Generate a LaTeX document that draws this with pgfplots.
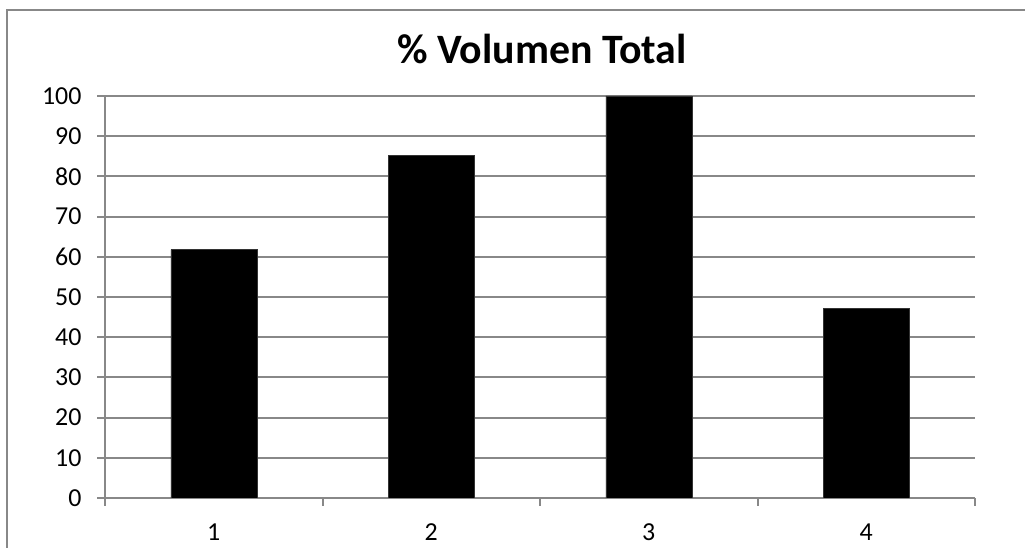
\documentclass[border=0pt]{standalone}
\usepackage{pgfplots}
\pgfplotsset{compat=1.18}
\usepackage{fontspec}
\setmainfont{Carlito}
\definecolor{gridgray}{HTML}{888888}
\begin{document}
\begin{tikzpicture}[x=1bp,y=1bp]
\path[use as bounding box] (0,0) rectangle (1025,548);
\draw[gridgray, line width=2bp] (7,0) -- (7,538) -- (1025,538);
\node[font=\fontsize{42}{50}\selectfont\bfseries] at (542,499) {\% Volumen Total};
\begin{axis}[
  at={(105bp,50bp)}, anchor=south west,
  scale only axis, width=870bp, height=402bp,
  xmin=0.5, xmax=4.5, ymin=0, ymax=100,
  axis lines*=left,
  axis line style={gridgray, line width=2bp},
  xtick={0.5,1.5,2.5,3.5,4.5},
  xticklabels={},
  extra x ticks={1,2,3,4},
  extra x tick labels={1,2,3,4},
  extra x tick style={major tick length=0pt, xticklabel style={yshift=-7bp}},
  ytick={0,10,...,100},
  ymajorgrids,
  grid style={gridgray, line width=2bp},
  tick align=outside,
  major tick length=8bp,
  tick style={gridgray, line width=2bp},
  ticklabel style={font=\fontsize{26}{31}\selectfont},
  /pgf/number format/assume math mode=true,
  yticklabel style={xshift=-12bp},
  xticklabel style={yshift=-15bp},
  ybar, bar width=86bp,
]
\addplot[fill=black, draw=black!80] coordinates {(1,61.8) (2,85.2) (3,100) (4,47.2)};
\end{axis}
\end{tikzpicture}
\end{document}
